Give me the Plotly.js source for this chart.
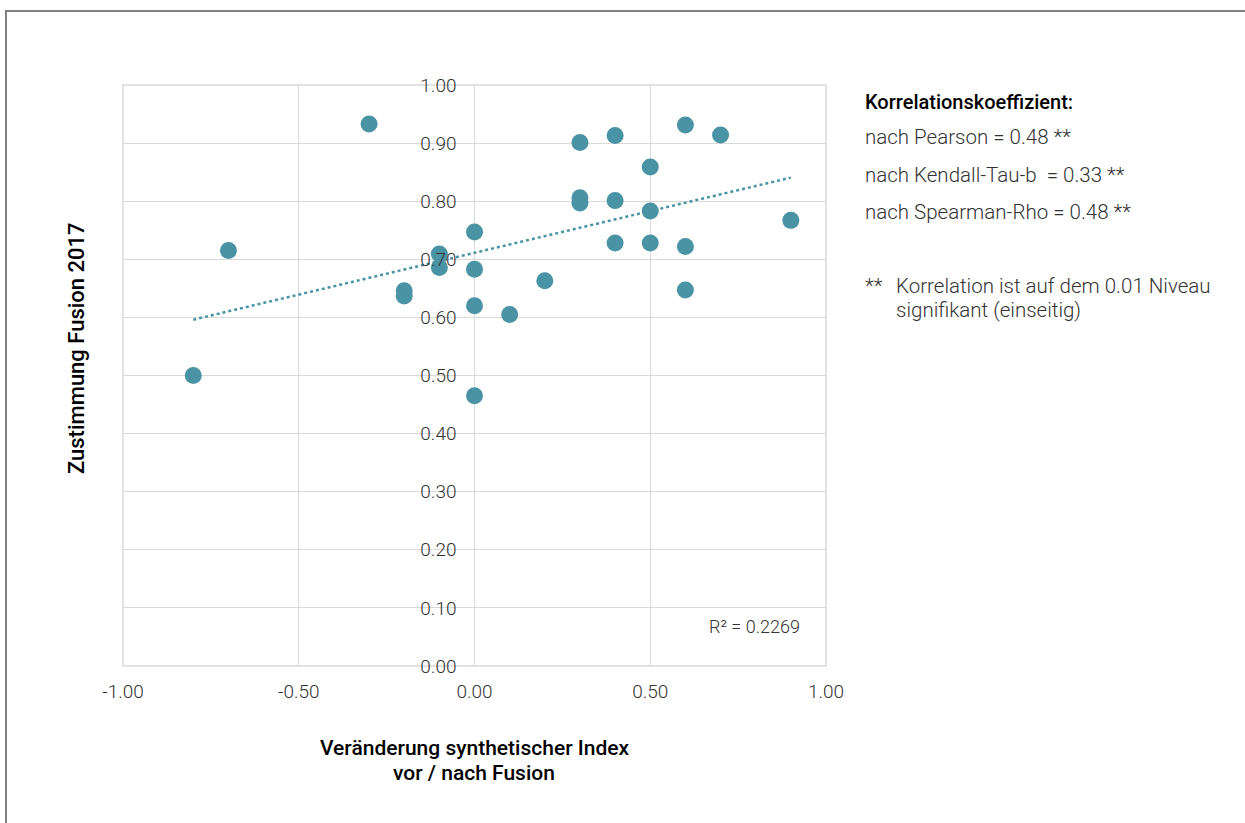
<!DOCTYPE html>
<html>
<head>
<meta charset="utf-8">
<script src="https://cdn.plot.ly/plotly-3.0.1.min.js"></script>
<style>
html,body{margin:0;padding:0;background:#fff;}
#chart{width:1245px;height:823px;}
</style>
</head>
<body>
<div id="chart"></div>
<script>
// Veränderung synthetischer Index vor / nach Fusion
const xValues = [-0.8, -0.7, -0.3, -0.2, -0.2, -0.1, -0.1, 0.0, 0.0, 0.0, 0.0, 0.1, 0.2, 0.3, 0.3, 0.3, 0.4, 0.4, 0.4, 0.5, 0.5, 0.5, 0.6, 0.6, 0.6, 0.7, 0.9];
// Zustimmung Fusion 2017
const yValues = [0.500, 0.715, 0.933, 0.646, 0.637, 0.709, 0.686, 0.747, 0.683, 0.620, 0.465, 0.605, 0.663, 0.901, 0.806, 0.797, 0.913, 0.801, 0.728, 0.859, 0.783, 0.728, 0.931, 0.722, 0.647, 0.914, 0.767];
const xTickVals = [-1, -0.5, 0, 0.5, 1];
const xTickText = ['-1.00', '-0.50', '0.00', '0.50', '1.00'];
const yTickVals = [0, 0.1, 0.2, 0.3, 0.4, 0.5, 0.6, 0.7, 0.8, 0.9, 1.0];
const yTickText = ['0.00', '0.10', '0.20', '0.30', '0.40', '0.50', '0.60', '0.70', '0.80', '0.90', '1.00'];
const rSquaredText = 'R² = 0.2269';
const corrTitle = 'Korrelationskoeffizient:';
const corrLines = ['nach Pearson = 0.48 **', 'nach Kendall-Tau-b  = 0.33 **', 'nach Spearman-Rho = 0.48 **'];
const footnoteLines = ['Korrelation ist auf dem 0.01 Niveau', 'signifikant (einseitig)'];

// linear least squares trendline
const n = xValues.length;
const mx = xValues.reduce((a,b)=>a+b,0)/n;
const my = yValues.reduce((a,b)=>a+b,0)/n;
let sxy = 0, sxx = 0;
for (let i=0;i<n;i++){ sxy += (xValues[i]-mx)*(yValues[i]-my); sxx += (xValues[i]-mx)**2; }
const slope = sxy/sxx, icpt = my - slope*mx;
const xMin = Math.min(...xValues), xMax = Math.max(...xValues);
const trendX = [xMin, xMax];
const trendY = trendX.map(v => icpt + slope*v);

const teal = '#4a93a5';
const L = 123, R = 826, T = 85, B = 666;
const pw = R - L, ph = B - T;
const px = v => (v - L)/pw;
const py = v => (B - v)/ph;

const textFont = {family:'Roboto, sans-serif', size:20.5, color:'#333333', weight:300};
const titleFont = {family:'Roboto, sans-serif', size:21, color:'#000', weight:500};
const annotations = [
  {text: corrTitle, x: px(863), y: py(102), xref:'paper', yref:'paper', xanchor:'left', yanchor:'middle', showarrow:false,
   font:{family:'Roboto, sans-serif', size:20, color:'#000', weight:500}},
  {text: rSquaredText, x: px(802), y: py(626), xref:'paper', yref:'paper', xanchor:'right', yanchor:'middle', showarrow:false,
   font:{family:'Roboto, sans-serif', size:18, color:'#333333', weight:300}},
  {text: 'Zustimmung Fusion 2017', x: px(76), y: py(348), xref:'paper', yref:'paper', xanchor:'center', yanchor:'middle', textangle:-90, showarrow:false,
   font:{family:'Roboto, sans-serif', size:22, color:'#000', weight:500}},
  {text: 'Veränderung synthetischer Index', x: px(474), y: py(748), xref:'paper', yref:'paper', xanchor:'center', yanchor:'middle', showarrow:false, font:titleFont},
  {text: 'vor / nach Fusion', x: px(474), y: py(773), xref:'paper', yref:'paper', xanchor:'center', yanchor:'middle', showarrow:false, font:titleFont},
  {text: '**', x: px(863), y: py(286), xref:'paper', yref:'paper', xanchor:'left', yanchor:'middle', showarrow:false, font:textFont}
];
const lineYs = [137, 175, 212];
corrLines.forEach((t,i)=>annotations.push({text:t, x:px(863), y:py(lineYs[i]), xref:'paper', yref:'paper', xanchor:'left', yanchor:'middle', showarrow:false, font:textFont}));
const footYs = [286, 310];
footnoteLines.forEach((t,i)=>annotations.push({text:t, x:px(894), y:py(footYs[i]), xref:'paper', yref:'paper', xanchor:'left', yanchor:'middle', showarrow:false, font:textFont}));

const traces = [
  {x: xValues, y: yValues, type:'scatter', mode:'markers', marker:{color:teal, size:17}, hoverinfo:'x+y'},
  {x: trendX, y: trendY, type:'scatter', mode:'lines', line:{color:teal, width:2.5, dash:'dot'}, hoverinfo:'skip'}
];

const tickFont = {family:'Roboto, sans-serif', size:19, color:'#333333', weight:300};
const layout = {
  width:1245, height:823,
  margin:{l:L, r:1245-R, t:T, b:823-B},
  paper_bgcolor:'#fff', plot_bgcolor:'#fff',
  showlegend:false,
  font:{family:'Roboto, sans-serif', size:16, color:'#404040'},
  xaxis:{range:[-1,1], tickvals:xTickVals, ticktext:xTickText, showgrid:true, gridcolor:'#d9d9d9', gridwidth:1,
         zeroline:false, showline:false, ticks:'', ticklabelstandoff:12, tickfont:tickFont, fixedrange:true},
  yaxis:{range:[0,1], tickvals:yTickVals, ticktext:yTickText, showgrid:true, gridcolor:'#d9d9d9', gridwidth:1,
         zeroline:false, showline:false, ticks:'', anchor:'free', position:0.5, ticklabelstandoff:18, tickfont:tickFont, fixedrange:true},
  annotations: annotations,
  shapes:[
    {type:'rect', xref:'x domain', yref:'y domain', x0:0, x1:1, y0:0, y1:1, line:{color:'#d9d9d9', width:1.5}, layer:'below'},
    {type:'line', xref:'paper', yref:'paper', x0:px(6), x1:px(6), y0:py(10), y1:py(900), line:{color:'#7f7f7f', width:2}},
    {type:'line', xref:'paper', yref:'paper', x0:px(5), x1:px(1300), y0:py(11), y1:py(11), line:{color:'#7f7f7f', width:2}}
  ]
};

Plotly.newPlot('chart', traces, layout, {displayModeBar:false, staticPlot:true});
</script>
</body>
</html>
